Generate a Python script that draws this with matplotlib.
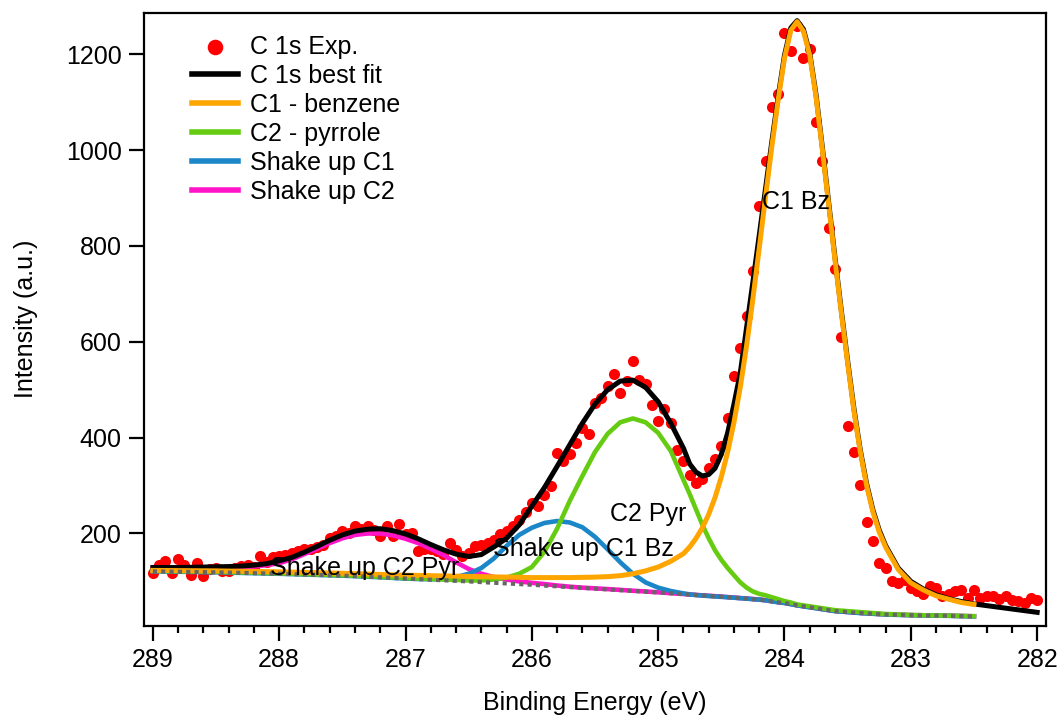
import matplotlib
matplotlib.use('Agg')
import matplotlib.pyplot as plt
from matplotlib.ticker import MultipleLocator

plt.rcParams['font.family'] = ['Liberation Sans', 'DejaVu Sans']
plt.rcParams['font.size'] = 18

# ---------------- experimental C 1s data ----------------
exp_energy = [
    289.0, 288.95, 288.9, 288.85, 288.8, 288.75, 288.7, 288.65, 288.6, 288.55,
    288.5, 288.45, 288.4, 288.35, 288.3, 288.25, 288.2, 288.15, 288.1, 288.05,
    288.0, 287.95, 287.9, 287.85, 287.8, 287.75, 287.7, 287.65, 287.6, 287.55,
    287.5, 287.45, 287.4, 287.35, 287.3, 287.25, 287.2, 287.15, 287.1, 287.05,
    287.0, 286.95, 286.9, 286.85, 286.8, 286.75, 286.7, 286.65, 286.6, 286.55,
    286.5, 286.45, 286.4, 286.35, 286.3, 286.25, 286.2, 286.15, 286.1, 286.05,
    286.0, 285.95, 285.9, 285.85, 285.8, 285.75, 285.7, 285.65, 285.6, 285.55,
    285.5, 285.45, 285.4, 285.35, 285.3, 285.25, 285.2, 285.15, 285.1, 285.05,
    285.0, 284.95, 284.9, 284.85, 284.8, 284.75, 284.7, 284.65, 284.6, 284.55,
    284.5, 284.45, 284.4, 284.35, 284.3, 284.25, 284.2, 284.15, 284.1, 284.05,
    284.0, 283.95, 283.9, 283.85, 283.8, 283.75, 283.7, 283.65, 283.6, 283.55,
    283.5, 283.45, 283.4, 283.35, 283.3, 283.25, 283.2, 283.15, 283.1, 283.05,
    283.0, 282.95, 282.9, 282.85, 282.8, 282.75, 282.7, 282.65, 282.6, 282.55,
    282.5, 282.45, 282.4, 282.35, 282.3, 282.25, 282.2, 282.15, 282.1, 282.05,
    282.0]
exp_intensity = [
    118, 135, 142, 118, 146, 135, 114, 139, 111, 125,
    128, 122, 121, 128, 132, 135, 130, 153, 140, 150,
    153, 156, 160, 163, 168, 167, 172, 177, 190, 194,
    205, 200, 215, 210, 215, 208, 194, 215, 194, 219,
    198, 200, 163, 167, 167, 163, 158, 181, 165, 153,
    160, 173, 177, 180, 187, 198, 205, 215, 229, 245,
    264, 257, 281, 299, 368, 351, 365, 389, 421, 407,
    473, 483, 508, 532, 494, 518, 560, 521, 511, 469,
    434, 459, 430, 375, 351, 323, 306, 313, 337, 355,
    382, 442, 528, 588, 654, 748, 883, 977, 1089, 1117,
    1245, 1207, 1259, 1193, 1211, 1058, 977, 838, 751, 609,
    425, 369, 301, 224, 184, 139, 128, 100, 96, 104,
    86, 80, 73, 90, 87, 69, 73, 80, 83, 66,
    83, 66, 69, 69, 64, 69, 62, 59, 54, 66,
    62]

# ---------------- fitted curves ----------------
fit_energy = [
    289.0, 288.9, 288.8, 288.7, 288.6, 288.5, 288.4, 288.3, 288.2, 288.1, 288.0,
    287.9, 287.8, 287.7, 287.6, 287.5, 287.4, 287.3, 287.2, 287.1, 287.0,
    286.9, 286.8, 286.7, 286.6, 286.5, 286.4, 286.3, 286.2, 286.1, 286.0,
    285.9, 285.8, 285.7, 285.6, 285.5, 285.4, 285.3, 285.2, 285.1, 285.0,
    284.9, 284.8,
    284.75, 284.70, 284.65, 284.60, 284.55, 284.50, 284.45, 284.40, 284.35, 284.30,
    284.25, 284.20, 284.15, 284.10, 284.05, 284.00, 283.95, 283.90, 283.85, 283.80,
    283.75, 283.70, 283.65, 283.60, 283.55, 283.50, 283.45, 283.40, 283.35, 283.30,
    283.25,
    283.2, 283.1, 283.0, 282.9, 282.8, 282.7, 282.6, 282.5]

background = [
    121, 120.6, 120.2, 119.8, 119.4, 119, 118.4, 117.8, 117.2, 116.6, 116,
    115.2, 114.4, 113.6, 112.8, 112, 111, 109.8, 108.6, 107.3, 106,
    104.8, 103.6, 102.4, 101.2, 100, 98.6, 97.2, 95.8, 94.4, 93,
    91.4, 89.8, 88.2, 86.6, 85, 83.4, 81.8, 80.2, 78.6, 77,
    75.2, 73.4,
    72.5, 71.6, 70.7, 69.8, 68.9, 68, 67, 66, 65, 64,
    63, 62, 60.5, 58.5, 56.5, 55, 52.5, 50, 48, 46,
    44, 42, 40, 38, 37, 36, 35, 34, 33.2, 32.5,
    31.7,
    31, 30.2, 29.5, 29, 28.6, 28.2, 27.6, 27]

c1_benzene = [
    123, 122.8, 122.6, 122.4, 122.2, 122, 121.6, 121.2, 120.8, 120.4, 120,
    119.4, 118.8, 118.2, 117.6, 117, 116.2, 115.4, 114.6, 113.8, 113,
    112.5, 112, 111.5, 111, 110.5, 110, 109.5, 109, 108.5, 108,
    108, 108, 108, 108.5, 109, 110, 112, 116, 122, 130,
    142, 158,
    172, 190, 212, 240, 275, 318, 370, 432, 505, 592,
    690, 795, 903, 1008, 1105, 1192, 1250, 1268, 1248, 1198,
    1110, 1000, 885, 770, 660, 555, 455, 370, 300, 245,
    203,
    172, 125, 97, 82, 70, 63, 56, 52]

c2_pyrrole = [
    122, 121.6, 121.2, 120.8, 120.4, 120, 119.4, 118.8, 118.2, 117.6, 117,
    116.2, 115.4, 114.6, 113.8, 113, 112, 110.8, 109.6, 108.3, 107,
    106, 105, 104, 103, 102, 102, 104, 108, 116, 130,
    162, 210, 268, 320, 370, 408, 432, 440, 432, 410,
    372, 312,
    282, 250, 218, 190, 165, 145, 128, 113, 98, 87,
    79, 74, 71, 67, 63, 59, 56, 52, 50, 48,
    46, 44, 42, 40, 39, 38, 37, 36, 35, 34,
    33,
    32, 31, 30, 29.5, 29, 28.5, 28, 27.5]

shakeup_c1 = [
    121, 120.6, 120.2, 119.8, 119.4, 119, 118.4, 117.8, 117.2, 116.6, 116,
    115.2, 114.4, 113.6, 112.8, 112, 111, 109.8, 108.6, 107.3, 106,
    105, 104.5, 105, 109, 116, 128, 148, 174, 197, 212,
    222, 226, 223, 213, 193, 167, 140, 116, 98, 87,
    80, 75,
    73, 71.5, 70.5, 69.5, 68.7, 67.8, 67, 66, 65, 64,
    63, 62, 60.5, 58.5, 56.5, 55, 52.5, 50, 48, 46,
    44, 42, 40, 38, 37, 36, 35, 34, 33.2, 32.5,
    31.7,
    31, 30.2, 29.5, 29, 28.6, 28.2, 27.6, 27]

shakeup_c2 = [
    128, 128, 128, 128, 128, 128, 128.5, 129, 131, 134, 138,
    146, 157, 168, 180, 190, 197, 200, 200, 196, 189,
    180, 168, 155, 140, 126, 116, 109, 104, 100, 97,
    94.5, 91.5, 89, 87, 85.5, 84, 82.3, 80.6, 79, 77.3,
    75.5, 73.7,
    72.8, 71.9, 71, 70.1, 69.2, 68.3, 67.3, 66.3, 65.3, 64.3,
    63.3, 62.3, 60.8, 58.8, 56.8, 55.3, 52.8, 50.3, 48.3, 46.3,
    44.3, 42.3, 40.3, 38.3, 37.3, 36.3, 35.3, 34.3, 33.5, 32.8,
    32,
    31.3, 30.5, 29.8, 29.3, 28.9, 28.5, 27.9, 27.3]

best_fit_energy = fit_energy + [282.4, 282.3, 282.2, 282.1, 282.0]
best_fit = [
    129, 129, 129, 129.5, 130, 130.5, 131, 132, 134, 137, 143,
    150, 161, 173, 186, 197, 205, 209, 210, 206, 199,
    189, 177, 166, 157, 152, 156, 172, 190, 218, 257,
    296, 340, 385, 430, 470, 500, 518, 520, 505, 475,
    430, 378,
    345, 328, 320, 323, 336, 365, 410, 470, 535, 630,
    725, 822, 920, 1018, 1112, 1198, 1255, 1270, 1252, 1202,
    1115, 1005, 890, 775, 665, 560, 460, 374, 304, 249,
    207,
    175, 128, 100, 84, 72, 64, 58, 53,
    49.5, 46, 42.5, 39, 35.5]

x_ticks = [289, 288, 287, 286, 285, 284, 283, 282]
y_ticks = [200, 400, 600, 800, 1000, 1200]

labels = ['C1 Bz', 'C2 Pyr', 'Shake up C1 Bz', 'Shake up C2 Pyr']
label_pos = [(284.18, 891), (285.38, 240), (286.31, 167), (288.07, 127)]

# ---------------- figure ----------------
fig = plt.figure(figsize=(10.59, 7.2), dpi=100)
ax = fig.add_axes([144 / 1059, 1 - 626 / 720, (1046 - 144) / 1059, (626 - 12.5) / 720])

h_exp = ax.scatter(exp_energy, exp_intensity, s=64, color='#ff0000', linewidths=0,
                   zorder=1, label='C 1s Exp.')
h_su2, = ax.plot(fit_energy, shakeup_c2, color='#ff14c8', lw=3.3, zorder=2,
                 solid_joinstyle='round', label='Shake up C2')
h_su1, = ax.plot(fit_energy, shakeup_c1, color='#1b87c9', lw=3.3, zorder=3,
                 solid_joinstyle='round', label='Shake up C1')
h_c2, = ax.plot(fit_energy, c2_pyrrole, color='#66cc11', lw=3.3, zorder=4,
                solid_joinstyle='round', label='C2 - pyrrole')
h_fit, = ax.plot(best_fit_energy, best_fit, color='black', lw=3.6, zorder=5,
                 solid_joinstyle='round', label='C 1s best fit')
h_c1, = ax.plot(fit_energy, c1_benzene, color='#ffa500', lw=3.6, zorder=6,
                solid_joinstyle='round', label='C1 - benzene')
ax.plot(fit_energy, background, color='#666666', lw=3.0, zorder=7,
        linestyle=(0, (1, 1)), dash_capstyle='butt')

for txt, (xx, yy) in zip(labels, label_pos):
    ax.text(xx, yy, txt, ha='left', va='center', fontsize=18, color='black', zorder=10)

ax.set_xlim(289.07, 281.93)
ax.set_ylim(7, 1287)
ax.set_xticks(x_ticks)
ax.set_xticklabels([str(t) for t in x_ticks])
ax.xaxis.set_minor_locator(MultipleLocator(0.2))
ax.set_yticks(y_ticks)

for sp in ax.spines.values():
    sp.set_linewidth(1.6)
ax.tick_params(axis='both', which='major', direction='out', length=11, width=1.6,
               labelsize=18, pad=5, top=False, right=False)
ax.tick_params(axis='x', which='minor', direction='out', length=5, width=1.6,
               top=False)

ax.set_xlabel('Binding Energy (eV)', fontsize=18)
ax.set_ylabel('Intensity (a.u.)', fontsize=18)
ax.xaxis.set_label_coords(0.5, -0.106)
ax.yaxis.set_label_coords(-0.1175, 0.5)

leg = ax.legend(handles=[h_exp, h_fit, h_c1, h_c2, h_su1, h_su2],
                loc='upper left', bbox_to_anchor=(0.0532, 0.9633),
                frameon=False, fontsize=18, borderaxespad=0, borderpad=0,
                handlelength=1.84, handletextpad=0.5, labelspacing=0.2,
                scatterpoints=1, markerscale=1.4)
for line in leg.get_lines():
    line.set_linewidth(4.0)

fig.savefig('out.png', dpi=100)
